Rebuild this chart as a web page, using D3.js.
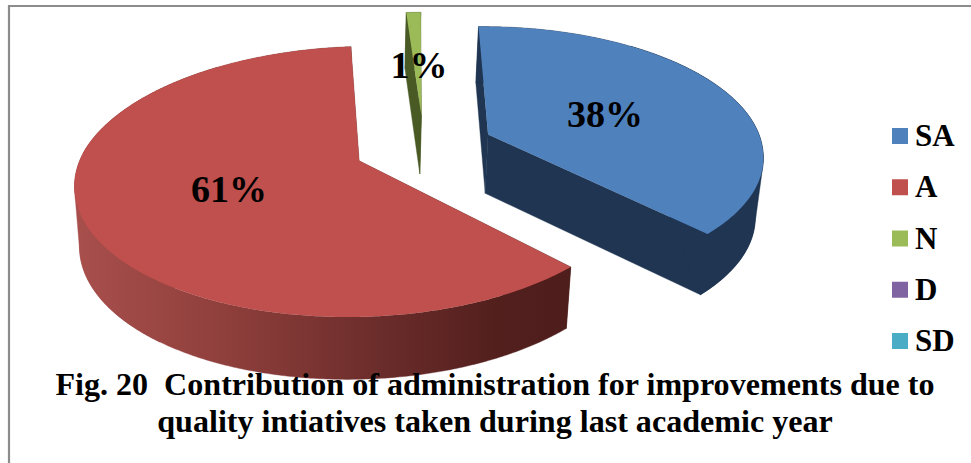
<!DOCTYPE html>
<html><head><meta charset="utf-8">
<script src="https://cdn.jsdelivr.net/npm/d3@7"></script>
<style>html,body{margin:0;padding:0;background:#fff}svg{display:block}</style>
</head><body><svg id="c" width="971" height="463"></svg>
<script>
const categories = ["SA","A","N","D","SD"];
const values = [38,61,1,0,0];
const labels = ["38%","61%","1%"];
const colors = ["#4F81BD","#C0504D","#9BBB59","#8064A2","#4BACC6"];
const sideColors = ["#1F3552","url(#redSide)","#4A5A25","#403251","#25565F"];
const titleLines = ["Fig. 20  Contribution of administration for improvements due to","quality intiatives taken during last academic year"];

const W=971,H=463;
const svg=d3.select("#c");
const font="'Liberation Serif','Times New Roman',serif";

svg.append("path").attr("d",`M9,${H}V6H${W}`).attr("fill","none").attr("stroke","#8c8c8c").attr("stroke-width",2.2);

const vx=424,vy=147,rx=275,ry=127.9,k=0.152,explode=0.255,shear=3.5,rotation=-0.02;
const depth=59,lowerVx=337,shrink=0.981;
const proj=(X,Y)=>{const w=1+k*Y;return [vx+rx*X/w+shear*Math.max(Y,0),vy-ry*Y/w,w];};
const lower=(p)=>[lowerVx+(p[0]-lowerVx)*shrink,p[1]+depth/Math.pow(p[2],0.3)];

const defs=svg.append("defs");
const g=defs.append("linearGradient").attr("id","redSide").attr("gradientUnits","userSpaceOnUse")
  .attr("x1",75).attr("x2",575).attr("y1",0).attr("y2",0);
[[0,"#A84F4C"],[0.3,"#8F3F3C"],[0.6,"#6C2D2B"],[0.85,"#521F1D"],[1,"#4E1E1C"]]
  .forEach(([o,c])=>g.append("stop").attr("offset",o).attr("stop-color",c));

const arcs=d3.pie().sort(null).startAngle(rotation).endAngle(2*Math.PI+rotation)(values);
const line=d3.line();
const layer=svg.append("g");

[2,0,1].forEach(i=>{
  const a=arcs[i];
  const mid=(a.startAngle+a.endAngle)/2;
  const cx=explode*Math.sin(mid),cy=explode*Math.cos(mid);
  const n=Math.max(2,Math.ceil((a.endAngle-a.startAngle)/0.01));
  const angles=d3.range(n+1).map(j=>a.startAngle+(a.endAngle-a.startAngle)*j/n);
  const rim=angles.map(t=>proj(cx+Math.sin(t),cy+Math.cos(t)));
  const apex=proj(cx,cy);
  const fillSide=sideColors[i];
  const face=pts=>layer.append("path").attr("d",line(pts.map(p=>[p[0],p[1]]))+"Z").attr("fill",fillSide).attr("stroke",fillSide).attr("stroke-width",0.4);
  face([apex,rim[0],lower(rim[0]),lower(apex)]);
  face([apex,rim[n],lower(rim[n]),lower(apex)]);
  face(rim.concat(rim.map(lower).reverse()));
  // straight silhouette of the wall around the pie's side extreme
  const side=Math.sign(Math.sin(mid));
  const cap=rim.filter((p,j)=>Math.sin(angles[j])*side>0.6);
  if(cap.length>2){
    const hull=d3.polygonHull(cap.concat(cap.map(lower)).map(p=>[p[0],p[1]]));
    face(hull);
  }
  layer.append("path").attr("d",line([apex,...rim].map(p=>[p[0],p[1]]))+"Z").attr("fill",colors[i]);
});

const labelPos=[[605,127],[229,202],[419,78]];
labels.forEach((t,i)=>svg.append("text").text(t)
  .attr("x",labelPos[i][0]).attr("y",labelPos[i][1]).attr("text-anchor","middle")
  .attr("font-family",font).attr("font-weight","bold").attr("font-size",38).attr("fill","#000"));

const ly=d3.scalePoint().domain(categories).range([136,341]);
categories.forEach((c,i)=>{
  svg.append("rect").attr("x",892).attr("y",ly(c)-8).attr("width",16).attr("height",16).attr("fill",colors[i]);
  svg.append("text").text(c).attr("x",915).attr("y",ly(c)+10)
    .attr("font-family",font).attr("font-weight","bold").attr("font-size",31).attr("fill","#000");
});

titleLines.forEach((t,i)=>svg.append("text").text(t)
  .attr("x",495).attr("y",395+i*37).attr("text-anchor","middle").attr("xml:space","preserve").style("white-space","pre")
  .attr("font-family",font).attr("font-weight","bold").attr("font-size",32.1).attr("fill","#000"));
</script></body></html>
